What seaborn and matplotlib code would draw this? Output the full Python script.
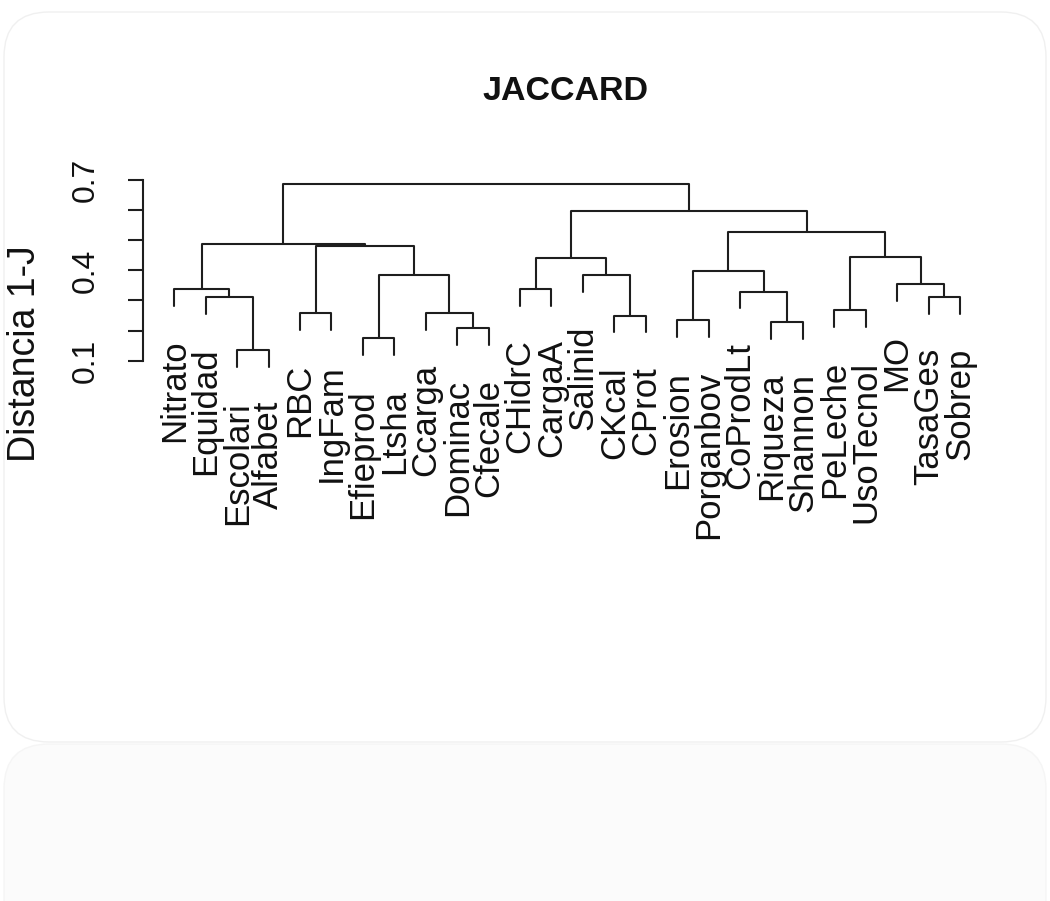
import numpy as np
import pandas as pd
import seaborn as sns
import matplotlib
matplotlib.use("Agg")
import matplotlib.pyplot as plt
from matplotlib.patches import FancyBboxPatch
from matplotlib.transforms import IdentityTransform

# ---------------- data ----------------
leaf_labels = ["Nitrato", "Equidad", "Escolari", "Alfabet", "RBC", "IngFam",
               "Efieprod", "Ltsha", "Ccarga", "Dominac", "Cfecale", "CHidrC",
               "CargaA", "Salinid", "CKcal", "CProt", "Erosion", "Porganbov",
               "CoProdLt", "Riqueza", "Shannon", "PeLeche", "UsoTecnol", "MO",
               "TasaGes", "Sobrep"]
# R hclust style merges: negative = leaf (1-based), positive = earlier merge
merge_left = [-3, -2, -1, -5, -7, -10, -9, 5, 4, 3,
              -12, -15, -14, 11, -17, -20, -19, 15, -22, -25,
              -24, 19, 18, 14, 10]
merge_right = [-4, 1, 2, -6, -8, -11, 6, 7, 8, 9,
               -13, -16, 12, 13, -18, -21, 16, 17, -23, -26,
               20, 21, 22, 23, 24]
merge_height = [0.134, 0.311, 0.338, 0.257, 0.174, 0.208, 0.257, 0.385, 0.481, 0.486,
                0.338, 0.249, 0.384, 0.440, 0.234, 0.228, 0.329, 0.399, 0.268, 0.311,
                0.355, 0.445, 0.528, 0.596, 0.686]
y_ticks = [0.1, 0.2, 0.3, 0.4, 0.5, 0.6, 0.7]
y_ticklabels = ["0.1", "", "", "0.4", "", "", "0.7"]
title = "JACCARD"
ylabel = "Distancia 1-J"

# ---------------- layout ----------------
sns.set_theme(style="white")
plt.rcParams["font.family"] = ["Liberation Sans", "DejaVu Sans"]

W, H = 1050, 901
fig = plt.figure(figsize=(W / 100, H / 100), dpi=100)
fig.patch.set_facecolor("white")

# faint card background like the reference
fig.patches.append(FancyBboxPatch((4, H - 742), W - 8, 730,
                                  boxstyle="round,pad=0,rounding_size=45",
                                  transform=IdentityTransform(), facecolor="white",
                                  edgecolor="#f0f0f0", lw=1, zorder=-10))
fig.patches.append(FancyBboxPatch((4, -80), W - 8, H - 742 + 78,
                                  boxstyle="round,pad=0,rounding_size=45",
                                  transform=IdentityTransform(), facecolor="#fbfbfb",
                                  edgecolor="#f5f5f5", lw=1, zorder=-10))

# plot region in pixels (from top-left): x 142.9..991.4, y 177..374.3
left, right, top, bottom = 142.9, 991.4, 177.0, 374.3
ax = fig.add_axes([left / W, 1 - bottom / H, (right - left) / W, (bottom - top) / H])
ax.set_facecolor("none")

n = len(leaf_labels)
hang = 0.1 * (max(merge_height) - min(merge_height))
ymin_leaf = min(merge_height) - hang
yr = max(merge_height) - ymin_leaf
ax.set_xlim(1 - 0.04 * (n - 1), n + 0.04 * (n - 1))
ax.set_ylim(ymin_leaf - 0.04 * yr, max(merge_height) + 0.04 * yr)

# ---------------- dendrogram geometry from merges ----------------
leaf_x = {i + 1: i + 1 for i in range(n)}
node_x, node_h = {}, {}
rows = []
leaf_bottom = {}
for k, (a, b, h) in enumerate(zip(merge_left, merge_right, merge_height), start=1):
    pts = []
    for c in (a, b):
        if c < 0:
            cx, cy = leaf_x[-c], h - hang
            leaf_bottom[-c] = cy
        else:
            cx, cy = node_x[c], node_h[c]
        pts.append((cx, cy))
    (xa, ya), (xb, yb) = pts
    for j, (px, py) in enumerate([(xa, ya), (xa, h), (xb, h), (xb, yb)]):
        rows.append({"seg": k, "order": j, "x": px, "y": py})
    node_x[k] = (xa + xb) / 2
    node_h[k] = h

seg_df = pd.DataFrame(rows)
sns.lineplot(data=seg_df, x="x", y="y", units="seg", estimator=None, sort=False,
             color="#1e1e1e", lw=1.5, ax=ax, legend=False)

# leaf labels
for i, lab in enumerate(leaf_labels, start=1):
    ax.annotate(lab, xy=(i, leaf_bottom[i]), xytext=(0, -34), textcoords="offset pixels",
                rotation=90, ha="center", va="top", fontsize=25, color="#111111",
                annotation_clip=False)

# axes styling
for s in ["top", "right", "bottom"]:
    ax.spines[s].set_visible(False)
ax.spines["left"].set_bounds(0.1, 0.7)
ax.spines["left"].set_color("#1e1e1e")
ax.spines["left"].set_linewidth(1.5)
ax.set_xticks([])
ax.set_yticks(y_ticks)
ax.set_yticklabels(y_ticklabels, rotation=90, va="center", fontsize=23, color="#111111")
ax.tick_params(axis="y", length=11, width=1.5, color="#1e1e1e", pad=19, left=True)
ax.set_xlabel("")
ax.set_ylabel("")

fig.text(25 / W, 1 - 354 / H, ylabel, rotation=90, ha="center", va="center",
         fontsize=27, color="#111111")
fig.text(565 / W, 1 - 92 / H, title, ha="center", va="center", fontsize=24.5,
         fontweight="bold", color="#111111")

fig.savefig("out.png", dpi=100)
